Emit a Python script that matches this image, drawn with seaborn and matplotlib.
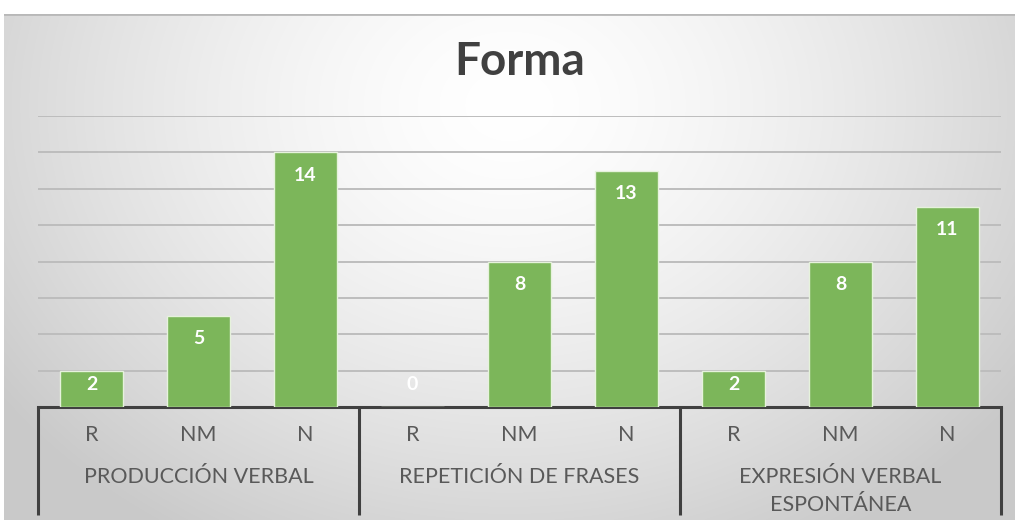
import numpy as np
import pandas as pd
import matplotlib
matplotlib.use("Agg")
import matplotlib.pyplot as plt
import matplotlib.transforms as mtransforms
import seaborn as sns

groups = ["PRODUCCIÓN VERBAL", "REPETICIÓN DE FRASES", "EXPRESIÓN VERBAL\nESPONTÁNEA"]
categories = ["R", "NM", "N"]
values_pv = [2, 5, 14]
values_rf = [0, 8, 13]
values_ev = [2, 8, 11]
title = "Forma"

sns.set_theme(style="white")
plt.rcParams['font.family'] = ['Lato', 'DejaVu Sans']

rows = []
for g, vals in zip(groups, [values_pv, values_rf, values_ev]):
    for c, v in zip(categories, vals):
        rows.append({"key": f"{g}|{c}", "group": g, "cat": c, "value": v})
df = pd.DataFrame(rows)

W, H = 1018, 523
fig = plt.figure(figsize=(W / 100, H / 100), dpi=100)
fig.patch.set_facecolor("white")

# background gradient panel
bg = fig.add_axes([4 / W, 3 / H, 1011 / W, (520 - 14) / H])
bg.set_axis_off()
ny, nx = 300, 600
yy, xx = np.mgrid[0:1:ny * 1j, 0:1:nx * 1j]
r = np.sqrt(((xx - 0.5) / 0.62) ** 2 + ((yy - 0.82) / 1.0) ** 2)
r = np.clip(r, 0, 1)
shade = 1.0 - 0.21 * r ** 1.5
img = np.dstack([shade, shade, shade])
bg.imshow(img, origin="lower", extent=[0, 1, 0, 1], aspect="auto", interpolation="bilinear")
bg.set_xlim(0, 1)
bg.set_ylim(0, 1)
bg.plot([0, 1], [1, 1], color="#b8b8b8", lw=2, transform=bg.transAxes)

ax = fig.add_axes([38 / W, (H - 407) / H, (1001 - 38) / W, (407 - 116) / H])
ax.set_facecolor("none")
sns.barplot(data=df, x="key", y="value", color="#7cb65a", width=0.59,
            edgecolor="#e6f2dc", linewidth=1.0, saturation=1, ax=ax, zorder=3)
ax.set_ylim(0, 16)
ax.set_xlim(-0.5, 8.5)
ax.set_yticks(np.arange(2, 17, 2))
ax.yaxis.grid(True, color="#bdbdbd", lw=1.4, zorder=0)
ax.set_axisbelow(True)
for s in ["top", "right", "left"]:
    ax.spines[s].set_visible(False)
ax.spines["bottom"].set_color("#404040")
ax.spines["bottom"].set_linewidth(2.2)
ax.tick_params(axis="y", left=False, labelleft=False)
ax.tick_params(axis="x", bottom=False, labelbottom=False)
ax.set_xlabel("")
ax.set_ylabel("")

for i, v in enumerate(df["value"]):
    ypos = max(v - 1.26, 1.21)
    ax.text(i, ypos, str(v), ha="center", va="center", color="white",
            fontsize=14, fontweight="bold", zorder=5)

trans = mtransforms.blended_transform_factory(ax.transData, ax.transAxes)
axh = (407 - 116)
for xb in [-0.5, 2.5, 5.5, 8.5]:
    ax.plot([xb, xb], [0, -(515 - 407) / axh], color="#404040", lw=2.2,
            transform=trans, clip_on=False, solid_capstyle="butt")

for i, c in enumerate(df["cat"]):
    ax.text(i, -(435 - 407) / axh, c, transform=trans, ha="center", va="center",
            fontsize=15.5, color="#595959")
for gi, g in enumerate(groups):
    lines = g.split("\n")
    for li, t in enumerate(lines):
        ax.text(gi * 3 + 1, -(477 - 407 + li * 28) / axh, t, transform=trans,
                ha="center", va="center", fontsize=15.5, color="#595959")

fig.text(520 / W, 1 - 62 / H, title, ha="center", va="center", fontsize=33,
         fontweight="bold", color="#404040")

fig.savefig("out.png", dpi=100)
